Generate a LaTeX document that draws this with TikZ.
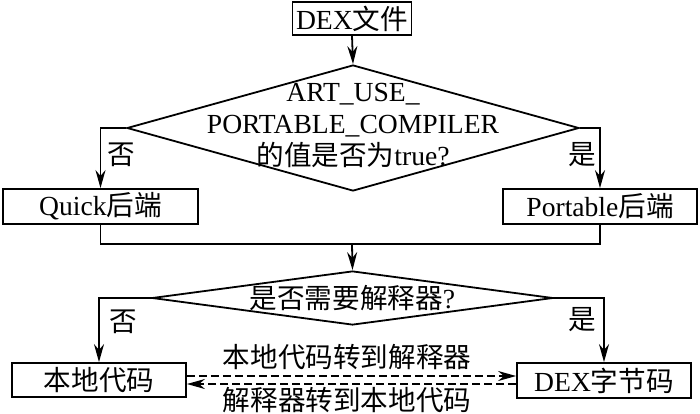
\documentclass[tikz,border=0pt]{standalone}
\usepackage{fontspec}
\setmainfont{Liberation Serif}
\newfontfamily\cjkf{Noto Sans CJK SC}
\newcommand\zh[1]{{\cjkf #1}}
\usetikzlibrary{arrows.meta,shapes.geometric}
\begin{document}
\begin{tikzpicture}[x=0.5pt,y=-0.5pt,
  every node/.style={font=\fontsize{13.8}{16}\selectfont},
  box/.style={draw,line width=0.9pt,inner sep=0pt,rectangle},
  dia/.style={draw,line width=0.9pt,diamond,inner sep=0pt},
  line/.style={line width=0.9pt},
  arr/.style={line,-{Stealth[length=9pt,width=5pt]}},
  darr/.style={arr,dash pattern=on 4pt off 2pt},
  lbl/.style={inner sep=0pt}]
\useasboundingbox (0,0) rectangle (700,413);
% boxes
\node[box,minimum width=59.5pt,minimum height=16.5pt] (dex) at (352,18.5) {DEX\zh{文件}};
\node[dia,minimum width=226pt,minimum height=63pt] (d1) at (353,128) {};
\node[align=center,lbl] (t1) at (353,125) {ART\_USE\_\\PORTABLE\_COMPILER\\\zh{的值是否为}true?};
\node[box,minimum width=97.5pt,minimum height=17.5pt] (quick) at (100.5,206.5) {Quick\zh{后端}};
\node[box,minimum width=97pt,minimum height=17.5pt] (port) at (600,206.5) {Portable\zh{后端}};
\coordinate (m) at (352,244);
\node[dia,minimum width=200.5pt,minimum height=27pt] (d2) at (352.5,298) {};
\node[lbl] (t2) at (352.5,298) {\zh{是否需要解释器}?};
\node[box,minimum width=87pt,minimum height=17pt] (native) at (99,380) {\zh{本地代码}};
\node[box,minimum width=87pt,minimum height=17.5pt] (bc) at (604,380.5) {DEX\zh{字节码}};
% labels
\node[lbl] (n1) at (121,155) {\zh{否}};
\node[lbl] (y1) at (582,155) {\zh{是}};
\node[lbl] (n2) at (123,322) {\zh{否}};
\node[lbl] (y2) at (582,320) {\zh{是}};
\node[lbl] (up) at (347,357) {\zh{本地代码转到解释器}};
\node[lbl] (dn) at (347,400) {\zh{解释器转到本地代码}};
% connectors
\draw[arr] (dex.south) -- (d1.north);
\draw[arr] (d1.west) -| (quick.north);
\draw[arr] (d1.east) -| (port.north);
\draw[line] (quick.south) |- (port.south |- m) -- (port.south);
\draw[arr] (m) -- (d2.north);
\draw[arr] (d2.west) -| (native.north);
\draw[arr] (d2.east) -| (bc.north);
\draw[darr] ([yshift=2pt]native.east) -- ([yshift=2pt]native.east -| bc.west);
\draw[darr] ([yshift=-2pt]native.east -| bc.west) -- ([yshift=-2pt]native.east);
\end{tikzpicture}
\end{document}
